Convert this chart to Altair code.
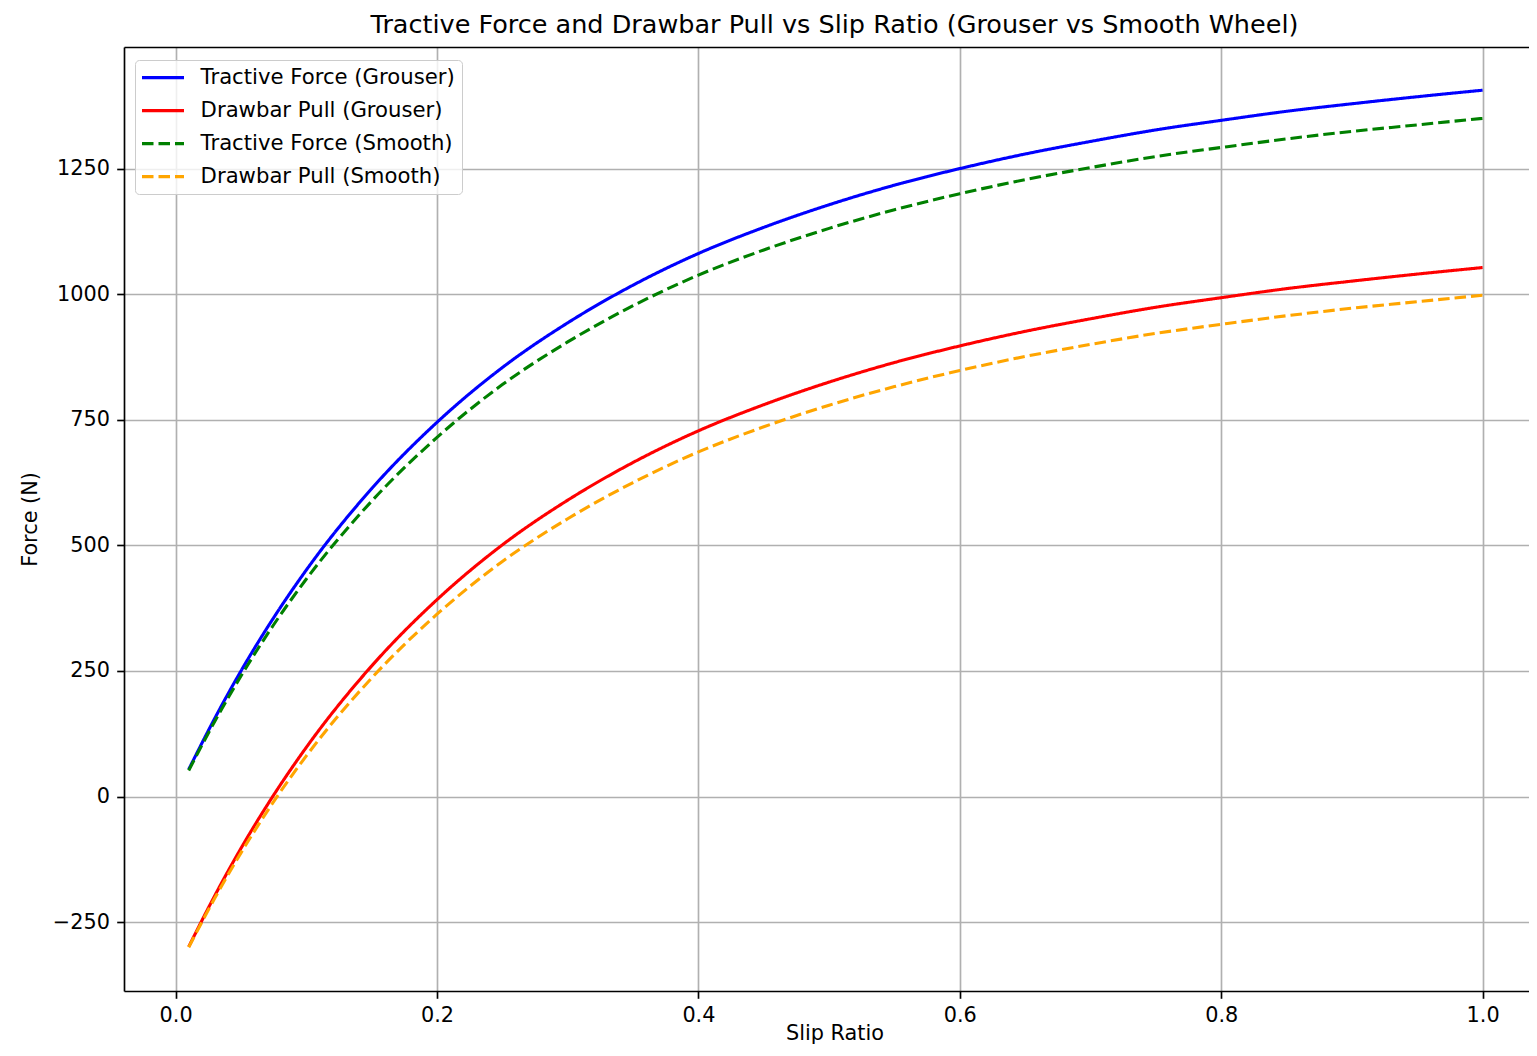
import altair as alt
import pandas as pd

# Values
slip = [0.01, 0.03, 0.05, 0.075, 0.10, 0.15, 0.20, 0.25, 0.30, 0.35, 0.40, 0.45,
        0.50, 0.55, 0.60, 0.65, 0.70, 0.75, 0.80, 0.85, 0.90, 0.95, 1.00]
tf_grouser = [54, 156, 250, 356, 451, 613, 745, 854, 943, 1018, 1081, 1133,
              1178, 1217, 1250, 1279, 1304, 1327, 1346, 1364, 1379, 1393, 1406]
dp_grouser = [-299, -197, -103, 3, 98, 260, 392, 501, 590, 665, 728, 780,
              825, 864, 897, 926, 951, 974, 993, 1011, 1026, 1040, 1053]
tf_smooth = [52, 150, 240, 342, 433, 588, 715, 820, 905, 977, 1038, 1088,
             1131, 1168, 1200, 1228, 1252, 1274, 1292, 1309, 1324, 1337, 1350]
dp_smooth = [-300, -202, -112, -10, 81, 236, 363, 468, 553, 625, 686, 736,
             779, 816, 848, 876, 900, 922, 940, 957, 972, 985, 998]

series_names = ["Tractive Force (Grouser)", "Drawbar Pull (Grouser)",
                "Tractive Force (Smooth)", "Drawbar Pull (Smooth)"]
series_values = [tf_grouser, dp_grouser, tf_smooth, dp_smooth]
colors = ["#0000ff", "#ff0000", "#008000", "#ffa500"]
dashes = [[1, 0], [1, 0], [11.5, 5], [11.5, 5]]

x_ticks = [0.0, 0.2, 0.4, 0.6, 0.8, 1.0]
y_ticks = [-250, 0, 250, 500, 750, 1000, 1250]

rows = []
for name, vals in zip(series_names, series_values):
    for s, v in zip(slip, vals):
        rows.append({"slip": s, "force": v, "series": name})
df = pd.DataFrame(rows)

FONT = "DejaVu Sans"
SPINE = 1.67

x_scale = alt.Scale(domain=[-0.0395, 1.0355], nice=False, zero=False)
y_scale = alt.Scale(domain=[-387, 1492], nice=False, zero=False)

lines = alt.Chart(df).mark_line(strokeWidth=3.1, interpolate="monotone").encode(
    x=alt.X("slip:Q", scale=x_scale,
            axis=alt.Axis(values=x_ticks, format=".1f", title="Slip Ratio",
                          titlePadding=-1.5, titleX=710.5, labelOverlap=False,
                          domain=True, domainColor="black", domainWidth=SPINE)),
    y=alt.Y("force:Q", scale=y_scale,
            axis=alt.Axis(values=y_ticks, format="d", title="Force (N)",
                          titlePadding=12, labelOverlap=False,
                          domain=True, domainColor="black", domainWidth=SPINE)),
    color=alt.Color("series:N",
                    scale=alt.Scale(domain=series_names, range=colors),
                    legend=alt.Legend(title=None)),
    strokeDash=alt.StrokeDash("series:N",
                              scale=alt.Scale(domain=series_names, range=dashes),
                              legend=alt.Legend(title=None)),
    order=alt.Order("slip:Q"),
)

# invisible layer only used to draw the top spine as a top axis line
top_spine = alt.Chart(df).mark_point(opacity=0).encode(
    x=alt.X("slip:Q", scale=x_scale,
            axis=alt.Axis(orient="top", labels=False, ticks=False, grid=False,
                          title=None, domain=True, domainColor="black",
                          domainWidth=SPINE)),
)

chart = alt.layer(lines, top_spine).resolve_axis(x="independent").properties(
    width=1405,
    height=944,
    autosize=alt.AutoSizeParams(type="none"),
    padding={"left": 116, "top": 39, "right": 0, "bottom": 57},
    title=alt.TitleParams(
        text="Tractive Force and Drawbar Pull vs Slip Ratio (Grouser vs Smooth Wheel)",
        fontSize=25.5, font=FONT, fontWeight="normal", color="black",
        anchor="middle", offset=9, dx=8),
).configure_axis(
    labelFont=FONT, labelFontSize=20.8, labelColor="black",
    titleFont=FONT, titleFontSize=20.8, titleFontWeight="normal", titleColor="black",
    tickColor="black", tickWidth=SPINE, tickSize=7.3, labelPadding=7.3,
    domain=False, grid=True, gridColor="#b0b0b0", gridWidth=1.67,
).configure_view(
    stroke=None,
).configure_legend(
    orient="none", legendX=11, legendY=13, padding=7, rowPadding=11,
    labelFont=FONT, labelFontSize=21.2, labelColor="black", labelOffset=37.4,
    labelLimit=0,
    symbolType="M-2.12,0H6.28", symbolSize=100, symbolStrokeWidth=3.1,
    strokeColor="#cccccc", fillColor="rgba(255,255,255,0.8)", cornerRadius=4,
)

chart.save("out.html", embed_options={"renderer": "svg", "actions": False})
